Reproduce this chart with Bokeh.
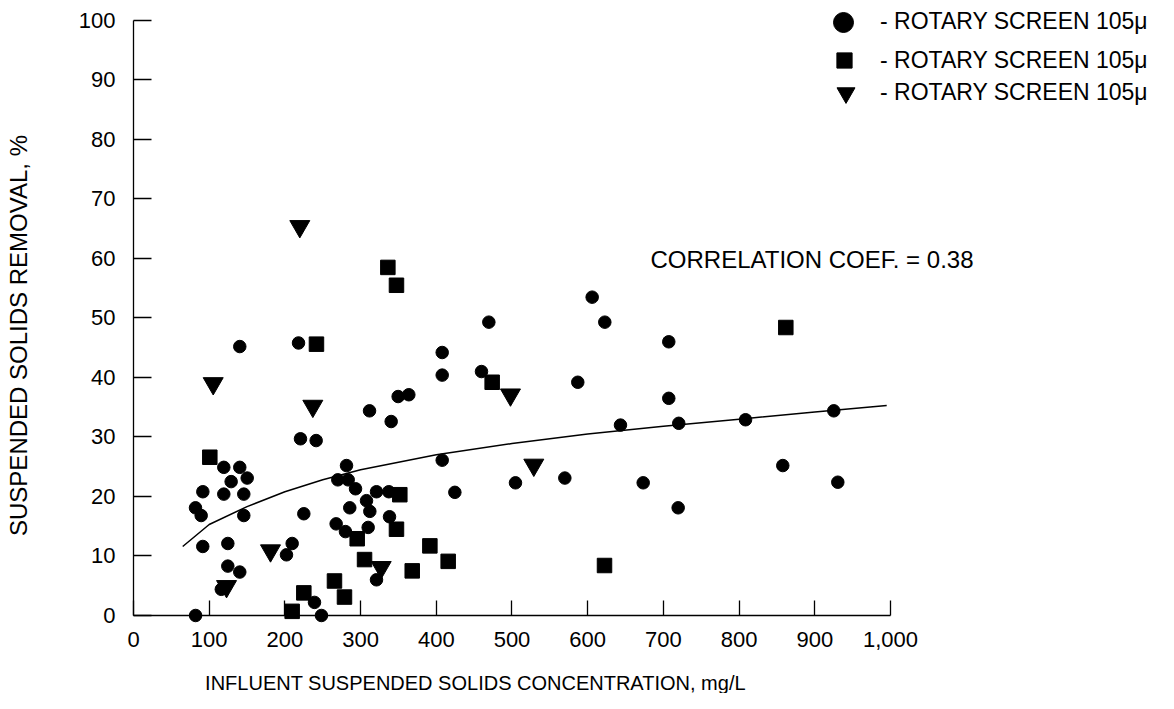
import math
from bokeh.plotting import figure
from bokeh.models import Range1d, FixedTicker, NumeralTickFormatter, Label, Legend, LegendItem
from bokeh.embed import file_html
from bokeh.resources import INLINE

# ---------------- data ----------------
circle_x = [82, 89.4, 81.9, 91.6, 91.5, 119.3, 140.4, 150.2, 129, 119.3, 145.7, 145.7, 124.6, 124.6,
            140.4, 116, 140.4, 202.1, 209.6, 225, 218, 220.6, 241.3, 239.1, 248.3, 281.4, 269.9, 283.6,
            293.3, 285.7, 267.7, 280, 307.8, 312.2, 310, 321, 337.3, 338.2, 321, 311.8, 340.4, 349.6,
            363.7, 407.8, 407.8, 407.8, 424.5, 459.7, 469.4, 504.6, 569.8, 586.9, 605.9, 622.6, 643.3,
            673.3, 707.1, 707.1, 720.3, 719.5, 808.5, 857.7, 925.1, 930.4]
circle_y = [0, 16.8, 18.1, 20.8, 11.6, 24.9, 24.9, 23.1, 22.5, 20.4, 20.4, 16.8, 12.1, 8.3,
            7.3, 4.4, 45.2, 10.2, 12.1, 17.1, 45.8, 29.7, 29.4, 2.2, 0, 25.2, 22.8, 22.8,
            21.3, 18.1, 15.4, 14.1, 19.3, 17.5, 14.8, 20.8, 20.8, 16.6, 6.0, 34.4, 32.6, 36.8,
            37.1, 44.2, 40.4, 26.1, 20.7, 41.0, 49.3, 22.3, 23.1, 39.2, 53.5, 49.3, 32.0,
            22.3, 46.0, 36.5, 32.3, 18.1, 32.9, 25.2, 34.4, 22.4]

square_x = [100.8, 241.7, 336, 347.4, 351.8, 347.4, 295.5, 305.2, 368.2, 265.5, 278.7, 225, 209.6,
            391.5, 415.7, 473.8, 622.2, 861.7]
square_y = [26.6, 45.6, 58.5, 55.5, 20.3, 14.5, 12.9, 9.4, 7.5, 5.8, 3.1, 3.8, 0.7,
            11.7, 9.1, 39.2, 8.4, 48.4]

triangle_x = [105.3, 219.7, 236.9, 122.9, 181, 327.2, 498, 528.8]
triangle_y = [39.0, 65.4, 35.2, 4.9, 10.9, 8.1, 37.1, 25.3]

curve_x = [65, 100, 150, 200, 250, 300, 400, 500, 600, 700, 800, 900, 995]
curve_y = [11.6, 15.3, 18.3, 20.8, 22.8, 24.5, 27.0, 28.9, 30.5, 31.8, 33.0, 34.2, 35.3]

x_ticks = [0, 100, 200, 300, 400, 500, 600, 700, 800, 900, 1000]
y_ticks = [0, 10, 20, 30, 40, 50, 60, 70, 80, 90, 100]

legend_labels = ["- ROTARY SCREEN 105\u03bc", "- ROTARY SCREEN 105\u03bc", "- ROTARY SCREEN 105\u03bc"]
x_title = "INFLUENT SUSPENDED SOLIDS CONCENTRATION, mg/L"
y_title = "SUSPENDED SOLIDS REMOVAL, %"
corr_text = "CORRELATION COEF. = 0.38"

# ---------------- figure ----------------
FONT = "Liberation Sans"
W, H = 1158, 693

p = figure(width=W, height=H, output_backend="svg", toolbar_location=None, title=None,
           x_range=Range1d(-175.69, 1354.03), y_range=Range1d(-13.11, 103.36),
           min_border=0, min_border_left=0, min_border_right=0, min_border_top=0, min_border_bottom=0)
p.outline_line_color = None
p.xgrid.grid_line_color = None
p.ygrid.grid_line_color = None
p.background_fill_color = "white"
p.border_fill_color = "white"

for ax in (p.xaxis[0], p.yaxis[0]):
    ax.fixed_location = 0
    ax.axis_line_color = "black"
    ax.axis_line_width = 1.3
    ax.major_tick_line_color = "black"
    ax.major_tick_line_width = 1.3
    ax.major_tick_out = 0
    ax.minor_tick_line_color = None
    ax.major_label_text_font = FONT
    ax.major_label_text_font_size = "22px"
    ax.major_label_text_color = "black"

p.xaxis.bounds = (0, 1000)
p.xaxis.ticker = FixedTicker(ticks=x_ticks)
p.xaxis.formatter = NumeralTickFormatter(format="0,0")
p.xaxis.major_tick_in = 15
p.xaxis.major_label_standoff = 17

p.yaxis.bounds = (0, 100)
p.yaxis.ticker = FixedTicker(ticks=y_ticks)
p.yaxis.major_tick_in = 18
p.yaxis.major_label_standoff = 18

# curve
p.line(curve_x, curve_y, line_color="black", line_width=1.5)

# markers
r_c = p.scatter(circle_x, circle_y, marker="circle", size=12.5, fill_color="black", line_color="black")
r_s = p.scatter(square_x, square_y, marker="square", size=14.5, fill_color="black", line_color="black")
r_t = p.scatter(triangle_x, triangle_y, marker="inverted_triangle", size=20, fill_color="black", line_color="black")

# legends (one per entry so each glyph gets its own size)
legend_specs = [
    (r_c, legend_labels[0], 50, (818, 646.5), 12),
    (r_s, legend_labels[1], 38, (825, 614), 17),
    (r_t, legend_labels[2], 45, (823, 578.5), 12),
]
for rend, lab, gsz, loc, so in legend_specs:
    leg = Legend(items=[LegendItem(label=lab, renderers=[rend])], location=loc,
                 glyph_width=gsz, glyph_height=gsz, label_height=gsz, padding=0, margin=0, spacing=0,
                 label_standoff=so, border_line_color=None, background_fill_alpha=0,
                 label_text_font=FONT, label_text_font_size="23px", label_text_color="black")
    p.add_layout(leg)

# texts
p.add_layout(Label(x=451.8, y=-11.4, text=x_title, text_align="center", text_baseline="middle",
                   text_font=FONT, text_font_size="20px", text_color="black"))
p.add_layout(Label(x=-151.9, y=47.06, text=y_title, angle=math.pi / 2, text_align="center",
                   text_baseline="middle", text_font=FONT, text_font_size="24px", text_color="black"))
p.add_layout(Label(x=683, y=59.8, text=corr_text, text_align="left", text_baseline="middle",
                   text_font=FONT, text_font_size="24px", text_color="black"))

open("out.html", "w").write(file_html(p, INLINE))
